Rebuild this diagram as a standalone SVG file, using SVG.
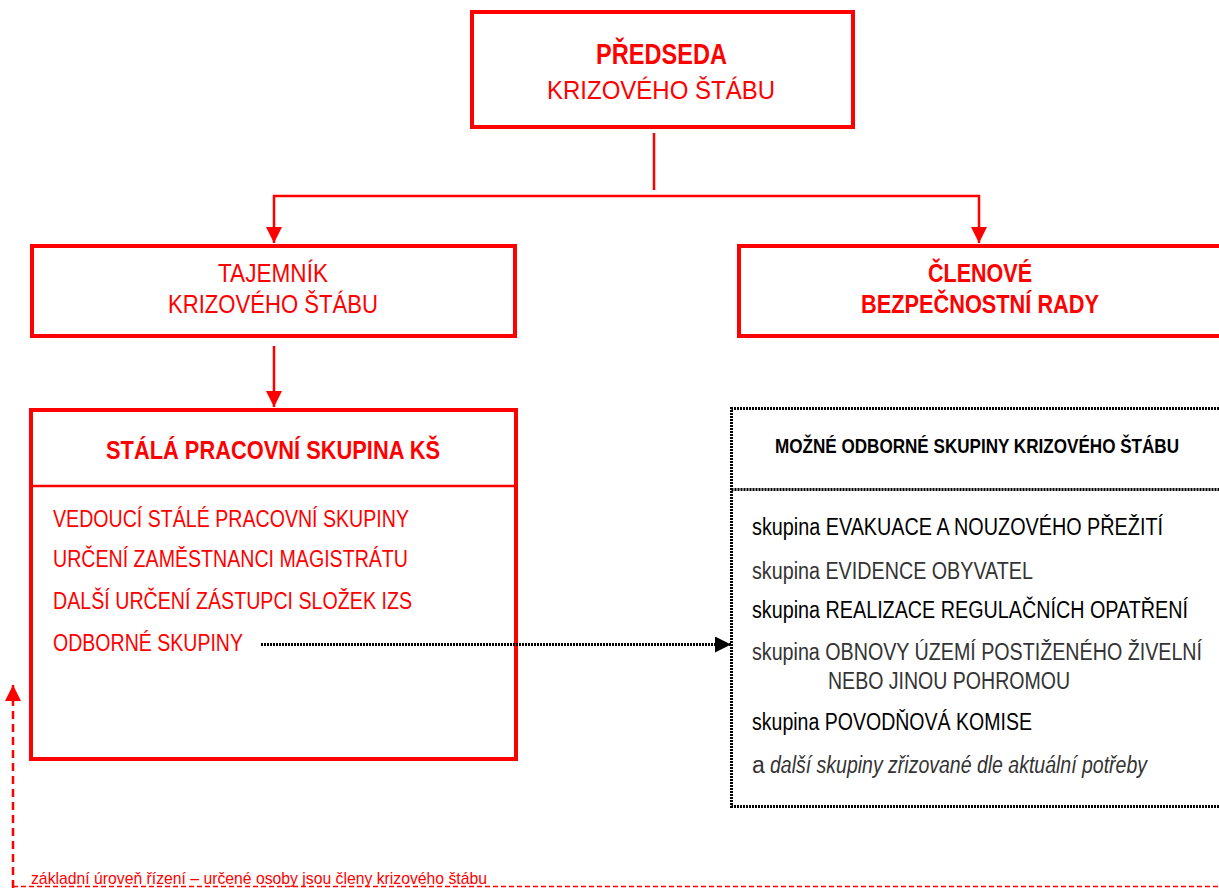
<svg xmlns="http://www.w3.org/2000/svg" width="1219" height="889" viewBox="0 0 1219 889">
<style>
text{font-family:"Liberation Sans Narrow","Liberation Sans",Arial,sans-serif;}
.r{fill:#ff0000;}
.k{fill:#000;}
.b{font-weight:bold;}
.box{fill:#fff;stroke:#ff0000;stroke-width:4;}
.dot{fill:none;stroke:#000;stroke-width:3;stroke-dasharray:2 1;}
.con{fill:none;stroke:#ff0000;stroke-width:2.5;}
</style>
<defs>
<marker id="ar" markerUnits="userSpaceOnUse" markerWidth="16" markerHeight="16" viewBox="0 0 16 16" refX="16" refY="8" orient="auto"><path d="M0,0 L16,8 L0,16 z" fill="#ff0000"/></marker>
<marker id="ak" markerUnits="userSpaceOnUse" markerWidth="16" markerHeight="16" viewBox="0 0 16 16" refX="16" refY="8" orient="auto"><path d="M0,0 L16,8 L0,16 z" fill="#000"/></marker>
</defs>
<rect width="1219" height="889" fill="#fff"/>

<g id="predseda">
<rect class="box" x="472" y="12" width="381" height="115"/>
<text class="r b" x="596" y="64" font-size="29" textLength="131" lengthAdjust="spacingAndGlyphs">PŘEDSEDA</text>
<text class="r" x="547" y="99" font-size="25" textLength="228" lengthAdjust="spacingAndGlyphs">KRIZOVÉHO ŠTÁBU</text>
</g>

<g id="tajemnik">
<rect class="box" x="32" y="246" width="483" height="90"/>
<text class="r" x="218" y="282" font-size="26" textLength="110" lengthAdjust="spacingAndGlyphs">TAJEMNÍK</text>
<text class="r" x="168" y="313" font-size="25" textLength="210" lengthAdjust="spacingAndGlyphs">KRIZOVÉHO ŠTÁBU</text>
</g>

<g id="clenove">
<rect class="box" x="739" y="246" width="500" height="90"/>
<text class="r b" x="928" y="282" font-size="26" textLength="104" lengthAdjust="spacingAndGlyphs">ČLENOVÉ</text>
<text class="r b" x="861" y="313" font-size="25" textLength="238" lengthAdjust="spacingAndGlyphs">BEZPEČNOSTNÍ RADY</text>
</g>

<g id="stala">
<rect class="box" x="31" y="410" width="485" height="349"/>
<line x1="31" y1="486" x2="516" y2="486" stroke="#ff0000" stroke-width="2.5"/>
<text class="r b" x="106" y="459" font-size="25" textLength="334" lengthAdjust="spacingAndGlyphs">STÁLÁ PRACOVNÍ SKUPINA KŠ</text>
<text class="r" x="53" y="527" font-size="23" textLength="356" lengthAdjust="spacingAndGlyphs">VEDOUCÍ STÁLÉ PRACOVNÍ SKUPINY</text>
<text class="r" x="53" y="567" font-size="23" textLength="355" lengthAdjust="spacingAndGlyphs">URČENÍ ZAMĚSTNANCI MAGISTRÁTU</text>
<text class="r" x="53" y="609" font-size="23" textLength="359" lengthAdjust="spacingAndGlyphs">DALŠÍ URČENÍ ZÁSTUPCI SLOŽEK IZS</text>
<text class="r" x="53" y="651" font-size="23" textLength="190" lengthAdjust="spacingAndGlyphs">ODBORNÉ SKUPINY</text>
</g>

<g id="odborne">
<path class="dot" d="M1222,408.5 H731.5 V806.5 H1222"/>
<line class="dot" x1="731.5" y1="489.5" x2="1222" y2="489.5"/>
<text class="k b" x="775" y="453" font-size="20" textLength="404" lengthAdjust="spacingAndGlyphs">MOŽNÉ ODBORNÉ SKUPINY KRIZOVÉHO ŠTÁBU</text>
<text class="k" x="752" y="535" font-size="23" textLength="411" lengthAdjust="spacingAndGlyphs">skupina EVAKUACE A NOUZOVÉHO PŘEŽITÍ</text>
<text x="752" y="579" font-size="23" fill="#333" textLength="281" lengthAdjust="spacingAndGlyphs">skupina EVIDENCE OBYVATEL</text>
<text class="k" x="752" y="618" font-size="23" textLength="436" lengthAdjust="spacingAndGlyphs">skupina REALIZACE REGULAČNÍCH OPATŘENÍ</text>
<text x="752" y="660" font-size="23" fill="#333" textLength="450" lengthAdjust="spacingAndGlyphs">skupina OBNOVY ÚZEMÍ POSTIŽENÉHO ŽIVELNÍ</text>
<text x="828" y="689" font-size="23" fill="#333" textLength="242" lengthAdjust="spacingAndGlyphs">NEBO JINOU POHROMOU</text>
<text class="k" x="752" y="730" font-size="23" textLength="280" lengthAdjust="spacingAndGlyphs">skupina POVODŇOVÁ KOMISE</text>
<text x="752" y="773" font-size="23" fill="#333">a</text>
<text x="770" y="773" font-size="23" fill="#333" font-style="italic" textLength="377" lengthAdjust="spacingAndGlyphs">další skupiny zřizované dle aktuální potřeby</text>
</g>

<g id="uroven">
<text class="r" x="31" y="884" font-size="17" textLength="456" lengthAdjust="spacingAndGlyphs">základní úroveň řízení – určené osoby jsou členy krizového štábu</text>
</g>

<g id="connectors">
<path class="con" d="M654,133 V190"/>
<path class="con" d="M654,196 H274 V243" marker-end="url(#ar)"/>
<path class="con" d="M654,196 H979 V243" marker-end="url(#ar)"/>
<path class="con" d="M274,346 V407" marker-end="url(#ar)"/>
<path fill="none" stroke="#000" stroke-width="3" stroke-dasharray="2 1" d="M261,644.5 H731" marker-end="url(#ak)"/>
<path class="con" stroke-dasharray="8 5" d="M13,888 V685" marker-end="url(#ar)"/>
<path fill="none" stroke="#ff0000" stroke-width="1.5" stroke-dasharray="5 3" d="M13,886.5 H1219"/>
</g>
</svg>
